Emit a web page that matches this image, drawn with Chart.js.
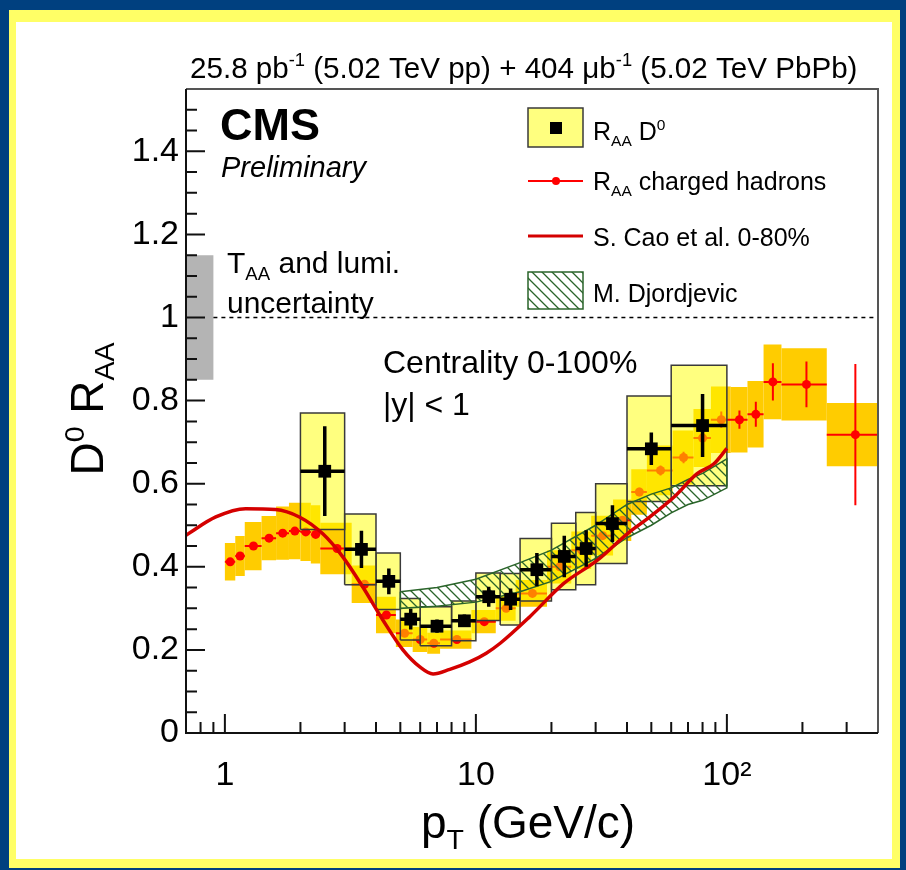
<!DOCTYPE html>
<html>
<head>
<meta charset="utf-8">
<title>CMS D0 RAA</title>
<script src="https://cdn.jsdelivr.net/npm/chart.js@4.4.1/dist/chart.umd.min.js"></script>
<style>
  html, body { margin: 0; padding: 0; background: #00407f; }
  canvas { display: block; }
</style>
</head>
<body>
<canvas id="raa-chart" width="906" height="870"></canvas>
<script>
// --- Axis ticks ---
const xMajorTicks = [1, 10, 100];
const xTickLabels = ['1', '10', '10²'];
const xMinorTicks = [0.8, 0.9, 2, 3, 4, 5, 6, 7, 8, 9, 20, 30, 40, 50, 60, 70, 80, 90, 200, 300];
const yTickValues = [0, 0.2, 0.4, 0.6, 0.8, 1.0, 1.2, 1.4];
const yTickLabels = ['0', '0.2', '0.4', '0.6', '0.8', '1', '1.2', '1.4'];
const yMinorTicks = [0.05, 0.1, 0.15, 0.25, 0.3, 0.35, 0.45, 0.5, 0.55, 0.65, 0.7, 0.75,
                     0.85, 0.9, 0.95, 1.05, 1.1, 1.15, 1.25, 1.3, 1.35, 1.45, 1.5];

// --- D0 RAA (CMS) ---
const d0PtLow  = [2, 3, 4, 5, 6, 8, 10, 12.5, 15, 20, 25, 30, 40, 60];
const d0PtHigh = [3, 4, 5, 6, 8, 10, 12.5, 15, 20, 25, 30, 40, 60, 100];
const d0Pt     = [2.5, 3.5, 4.5, 5.5, 7, 9, 11.25, 13.75, 17.5, 22.5, 27.5, 35, 50, 80];
const d0Raa    = [0.63, 0.442, 0.365, 0.274, 0.257, 0.27, 0.328, 0.322, 0.393, 0.425, 0.444, 0.504, 0.684, 0.74];
const d0Stat   = [0.108, 0.045, 0.031, 0.025, 0.016, 0.015, 0.024, 0.026, 0.04, 0.05, 0.044, 0.044, 0.039, 0.076];
const d0Syst   = [0.14, 0.085, 0.068, 0.05, 0.047, 0.048, 0.057, 0.062, 0.075, 0.08, 0.087, 0.096, 0.127, 0.145];

// --- Charged hadron RAA ---
const chPtLow  = [1.0, 1.1, 1.2, 1.4, 1.6, 1.8, 2.0, 2.2, 2.4, 3.2, 4.0, 4.8, 5.6, 6.4, 7.2, 9.6,
                  12.0, 14.4, 19.2, 24.0, 28.8, 35.2, 41.6, 48.0, 60.8, 73.6, 86.4, 103.6, 120.8, 140, 165, 250];
const chPtHigh = [1.1, 1.2, 1.4, 1.6, 1.8, 2.0, 2.2, 2.4, 3.2, 4.0, 4.8, 5.6, 6.4, 7.2, 9.6, 12.0,
                  14.4, 19.2, 24.0, 28.8, 35.2, 41.6, 48.0, 60.8, 73.6, 86.4, 103.6, 120.8, 140, 165, 250, 400];
const chRaa    = [0.412, 0.426, 0.45, 0.469, 0.481, 0.486, 0.484, 0.478, 0.444, 0.358, 0.284, 0.24, 0.225, 0.216, 0.225, 0.268,
                  0.30, 0.336, 0.40, 0.44, 0.475, 0.512, 0.58, 0.632, 0.663, 0.71, 0.754, 0.754, 0.767, 0.845, 0.839, 0.718];
const chStat   = [0.003, 0.003, 0.003, 0.003, 0.003, 0.003, 0.003, 0.003, 0.003, 0.003, 0.003, 0.003, 0.003, 0.003, 0.003, 0.004,
                  0.005, 0.005, 0.006, 0.007, 0.008, 0.009, 0.01, 0.012, 0.014, 0.016, 0.02, 0.022, 0.03, 0.045, 0.055, 0.17];
const chSyst   = [0.045, 0.048, 0.058, 0.053, 0.064, 0.068, 0.07, 0.07, 0.062, 0.045, 0.044, 0.033, 0.03, 0.025, 0.022, 0.028,
                  0.03, 0.032, 0.04, 0.045, 0.048, 0.05, 0.055, 0.06, 0.065, 0.07, 0.08, 0.079, 0.08, 0.09, 0.087, 0.076];

// --- S. Cao et al. 0-80% ---
const caoPt  = [0.7, 0.92, 1.21, 1.59, 1.98, 2.45, 2.95, 3.54, 4.26, 5.12, 5.98, 6.75, 7.87, 9.44, 11.0, 12.5,
                16.4, 22.4, 30.5, 40.2, 48.3, 61.6, 76.1, 88.8, 100];
const caoRaa = [0.476, 0.52, 0.54, 0.538, 0.52, 0.48, 0.424, 0.352, 0.272, 0.20, 0.159, 0.142, 0.153, 0.171, 0.192, 0.216,
                0.28, 0.36, 0.416, 0.48, 0.516, 0.568, 0.624, 0.648, 0.685];

// --- M. Djordjevic band ---
const djPt    = [5, 7, 10, 15, 20, 30, 40, 50, 60, 70, 80, 100];
const djUpper = [0.34, 0.35, 0.37, 0.41, 0.44, 0.50, 0.55, 0.575, 0.59, 0.61, 0.625, 0.66];
const djLower = [0.30, 0.305, 0.315, 0.34, 0.365, 0.42, 0.47, 0.50, 0.53, 0.55, 0.56, 0.59];

// --- Global uncertainty (TAA and lumi) ---
const taaPt = [0.7, 0.9];
const taaBand = [0.85, 1.15];
const unityPt = [0.9, 400];

const FONT = "'Liberation Sans', Arial, Helvetica, sans-serif";

// --- Helpers ---
const boxPath = (lo, hi, ylo, yhi) => [
  { x: lo, y: ylo }, { x: hi, y: ylo }, { x: hi, y: yhi }, { x: lo, y: yhi }, { x: lo, y: ylo }
];

function errorBars(lo, hi, xc, yv, err) {
  const pts = [];
  lo.forEach((l, i) => {
    pts.push({ x: l, y: yv[i] }, { x: hi[i], y: yv[i] }, { x: hi[i], y: null });
    pts.push({ x: xc[i], y: yv[i] - err[i] }, { x: xc[i], y: yv[i] + err[i] }, { x: xc[i], y: null });
  });
  return pts;
}

function makeHatch(color) {
  const c = document.createElement('canvas');
  c.width = c.height = 10;
  const g = c.getContext('2d');
  g.strokeStyle = color;
  g.lineWidth = 1.3;
  g.beginPath();
  g.moveTo(0, 0); g.lineTo(10, 10);
  g.moveTo(-1, 9); g.lineTo(1, 11);
  g.moveTo(9, -1); g.lineTo(11, 1);
  g.stroke();
  return g.createPattern(c, 'repeat');
}

// draws text with sub/superscripts; parts = [{t, sup, sub}]
function drawRich(ctx, x, y, parts, size, opts = {}) {
  const style = opts.style || '';
  const fontFor = p => `${style} ${(p.sup || p.sub) ? size * 0.62 : size}px ${FONT}`;
  let total = 0;
  parts.forEach(p => { ctx.font = fontFor(p); total += ctx.measureText(p.t).width; });
  let cx = opts.align === 'center' ? x - total / 2 : opts.align === 'right' ? x - total : x;
  ctx.textAlign = 'left';
  ctx.textBaseline = 'alphabetic';
  ctx.fillStyle = opts.color || '#000';
  parts.forEach(p => {
    ctx.font = fontFor(p);
    const dy = p.sup ? -size * 0.42 : p.sub ? size * 0.24 : 0;
    ctx.fillText(p.t, cx, y + dy);
    cx += ctx.measureText(p.t).width;
  });
}

const hatch = makeHatch('#2a642a');
const d0Fill = 'rgba(255, 255, 0, 0.5)';

// --- Datasets ---
const datasets = [];

datasets.push({
  data: boxPath(taaPt[0], taaPt[1], taaBand[0], taaBand[1]),
  fill: 'shape', backgroundColor: '#b4b4b4', borderColor: 'transparent', borderWidth: 0,
  pointRadius: 0, order: 20
});
datasets.push({
  data: unityPt.map(x => ({ x, y: 1 })),
  borderColor: '#000', borderWidth: 1.5, borderDash: [4, 4], fill: false,
  pointRadius: 0, order: 19
});

chPtLow.forEach((lo, i) => {
  datasets.push({
    data: boxPath(lo, chPtHigh[i], chRaa[i] - chSyst[i], chRaa[i] + chSyst[i]),
    fill: 'shape', backgroundColor: '#ffcc00', borderColor: 'transparent', borderWidth: 0,
    pointRadius: 0, order: 15
  });
});

const chCenter = chPtLow.map((lo, i) => (lo + chPtHigh[i]) / 2);
datasets.push({
  data: errorBars(chPtLow, chPtHigh, chCenter, chRaa, chStat),
  borderColor: '#ff0000', borderWidth: 2, fill: false, spanGaps: false,
  pointRadius: 0, order: 14
});
datasets.push({
  data: chCenter.map((x, i) => ({ x, y: chRaa[i] })),
  showLine: false, pointStyle: 'circle', pointRadius: 4.5,
  pointBackgroundColor: '#ff0000', pointBorderColor: '#ff0000', pointBorderWidth: 0, order: 13
});

d0PtLow.forEach((lo, i) => {
  datasets.push({
    data: boxPath(lo, d0PtHigh[i], d0Raa[i] - d0Syst[i], d0Raa[i] + d0Syst[i]),
    fill: 'shape', backgroundColor: d0Fill, borderColor: '#3a3a3a', borderWidth: 1.5,
    pointRadius: 0, order: 10
  });
});

const djShape = djPt.map((x, i) => ({ x, y: djUpper[i] }))
  .concat(djPt.map((x, i) => ({ x, y: djLower[i] })).reverse());
djShape.push({ x: djPt[0], y: djUpper[0] });
datasets.push({
  data: djShape,
  fill: 'shape', backgroundColor: hatch, borderColor: '#2a642a', borderWidth: 1.5,
  pointRadius: 0, order: 8
});

datasets.push({
  data: caoPt.map((x, i) => ({ x, y: caoRaa[i] })),
  borderColor: '#d40000', borderWidth: 3.5, fill: false, cubicInterpolationMode: 'monotone',
  pointRadius: 0, order: 7
});

datasets.push({
  data: errorBars(d0PtLow, d0PtHigh, d0Pt, d0Raa, d0Stat),
  borderColor: '#000', borderWidth: 3.5, fill: false, spanGaps: false,
  pointRadius: 0, order: 5
});
datasets.push({
  data: d0Pt.map((x, i) => ({ x, y: d0Raa[i] })),
  showLine: false, pointStyle: 'rect', pointRadius: 9,
  pointBackgroundColor: '#000', pointBorderColor: '#000', pointBorderWidth: 0, order: 4
});

// --- Plugins ---
const frameBackground = {
  id: 'frameBackground',
  beforeDraw(chart) {
    const ctx = chart.ctx;
    ctx.save();
    ctx.fillStyle = '#00407f';
    ctx.fillRect(0, 0, chart.width, chart.height);
    ctx.fillStyle = '#ffff66';
    ctx.fillRect(9, 10, 891, 858);
    ctx.fillStyle = '#ffffff';
    ctx.fillRect(16, 22, 876, 837);
    ctx.restore();
  }
};

const axesAndText = {
  id: 'axesAndText',
  afterDraw(chart) {
    const ctx = chart.ctx;
    const a = chart.chartArea;
    const xs = chart.scales.x, ys = chart.scales.y;
    ctx.save();

    // frame
    ctx.lineWidth = 2;
    ctx.strokeStyle = '#555';
    ctx.beginPath();
    ctx.moveTo(a.left, a.top); ctx.lineTo(a.right, a.top); ctx.lineTo(a.right, a.bottom);
    ctx.stroke();
    ctx.strokeStyle = '#111';
    ctx.beginPath();
    ctx.moveTo(a.left, a.top); ctx.lineTo(a.left, a.bottom); ctx.lineTo(a.right, a.bottom);
    ctx.stroke();

    // inward ticks
    ctx.beginPath();
    xMajorTicks.forEach(v => { const p = xs.getPixelForValue(v); ctx.moveTo(p, a.bottom); ctx.lineTo(p, a.bottom - 19); });
    xMinorTicks.forEach(v => { const p = xs.getPixelForValue(v); ctx.moveTo(p, a.bottom); ctx.lineTo(p, a.bottom - 11); });
    yTickValues.forEach(v => { const p = ys.getPixelForValue(v); ctx.moveTo(a.left, p); ctx.lineTo(a.left + 19, p); });
    yMinorTicks.forEach(v => { const p = ys.getPixelForValue(v); ctx.moveTo(a.left, p); ctx.lineTo(a.left + 11, p); });
    ctx.stroke();

    // header
    drawRich(ctx, 190, 78, [
      { t: '25.8 pb' }, { t: '-1', sup: true }, { t: ' (5.02 TeV pp) + 404 μb' }, { t: '-1', sup: true },
      { t: ' (5.02 TeV PbPb)' }
    ], 29.6);

    // CMS labels
    ctx.fillStyle = '#000';
    ctx.font = `bold 45px ${FONT}`;
    ctx.textAlign = 'left';
    ctx.fillText('CMS', 220, 140);
    ctx.font = `italic 29px ${FONT}`;
    ctx.fillText('Preliminary', 221, 177);

    drawRich(ctx, 227, 273, [{ t: 'T' }, { t: 'AA', sub: true }, { t: ' and lumi.' }], 30);
    drawRich(ctx, 227, 313, [{ t: 'uncertainty' }], 30);
    drawRich(ctx, 383, 373, [{ t: 'Centrality 0-100%' }], 32);
    drawRich(ctx, 383, 415, [{ t: '|y| < 1' }], 32);

    // axis titles
    drawRich(ctx, 528, 838, [{ t: 'p' }, { t: 'T', sub: true }, { t: ' (GeV/c)' }], 46, { align: 'center' });
    ctx.save();
    ctx.translate(103, 409);
    ctx.rotate(-Math.PI / 2);
    drawRich(ctx, 0, 0, [{ t: 'D' }, { t: '0', sup: true }, { t: ' R' }, { t: 'AA', sub: true }], 46, { align: 'center' });
    ctx.restore();

    // legend
    ctx.fillStyle = '#ffffff';
    ctx.fillRect(528, 108, 55, 39);
    ctx.fillStyle = d0Fill;
    ctx.fillRect(528, 108, 55, 39);
    ctx.strokeStyle = '#3a3a3a'; ctx.lineWidth = 1.5;
    ctx.strokeRect(528, 108, 55, 39);
    ctx.fillStyle = '#000';
    ctx.fillRect(550, 122, 12, 12);
    drawRich(ctx, 593, 140, [{ t: 'R' }, { t: 'AA', sub: true }, { t: ' D' }, { t: '0', sup: true }], 25);

    ctx.strokeStyle = '#ff0000'; ctx.lineWidth = 2;
    ctx.beginPath(); ctx.moveTo(528, 181); ctx.lineTo(583, 181); ctx.stroke();
    ctx.fillStyle = '#ff0000';
    ctx.beginPath(); ctx.arc(556, 181, 4, 0, Math.PI * 2); ctx.fill();
    drawRich(ctx, 593, 190, [{ t: 'R' }, { t: 'AA', sub: true }, { t: ' charged hadrons' }], 25);

    ctx.strokeStyle = '#d40000'; ctx.lineWidth = 3;
    ctx.beginPath(); ctx.moveTo(528, 236); ctx.lineTo(583, 236); ctx.stroke();
    drawRich(ctx, 593, 246, [{ t: 'S. Cao et al. 0-80%' }], 25);

    ctx.fillStyle = hatch;
    ctx.fillRect(528, 272, 55, 37);
    ctx.strokeStyle = '#2a642a'; ctx.lineWidth = 1.5;
    ctx.strokeRect(528, 272, 55, 37);
    drawRich(ctx, 593, 302, [{ t: 'M. Djordjevic' }], 25);

    ctx.restore();
  }
};

// --- Chart ---
Chart.defaults.font.family = FONT;
Chart.defaults.color = '#000';

new Chart(document.getElementById('raa-chart'), {
  type: 'line',
  data: { datasets },
  options: {
    responsive: false,
    animation: false,
    devicePixelRatio: 1,
    events: [],
    layout: { padding: { left: 0, right: 28, top: 89, bottom: 0 } },
    plugins: {
      legend: { display: false },
      tooltip: { enabled: false }
    },
    elements: { line: { tension: 0 } },
    scales: {
      x: {
        type: 'logarithmic',
        min: 0.7,
        max: 400,
        afterFit: s => { s.height = 137; },
        afterBuildTicks: s => { s.ticks = xMajorTicks.map(v => ({ value: v })); },
        grid: { display: false, drawTicks: false },
        border: { display: false },
        ticks: {
          autoSkip: false, maxRotation: 0, minRotation: 0, padding: 22,
          font: { size: 34 }, color: '#000',
          callback: (v, i) => xTickLabels[i]
        }
      },
      y: {
        type: 'linear',
        min: 0,
        max: 1.55,
        afterFit: s => { s.width = 186; },
        afterBuildTicks: s => { s.ticks = yTickValues.map(v => ({ value: v })); },
        grid: { display: false, drawTicks: false },
        border: { display: false },
        ticks: {
          autoSkip: false, padding: 7,
          font: { size: 34 }, color: '#000',
          callback: (v, i) => yTickLabels[i]
        }
      }
    }
  },
  plugins: [frameBackground, axesAndText]
});
</script>
</body>
</html>
